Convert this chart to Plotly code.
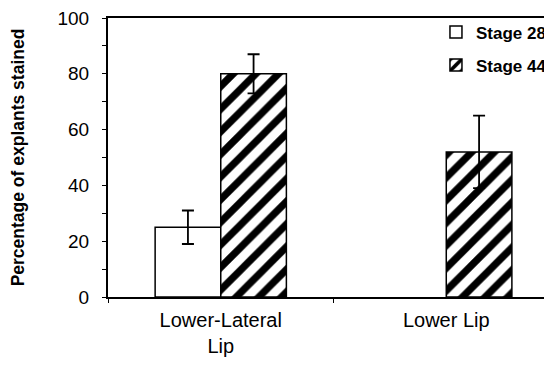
import plotly.graph_objects as go

categories = ["Lower-Lateral<br>Lip", "Lower Lip"]
stage28 = [25, None]
stage28_err = [6, None]
stage44 = [80, 52]
stage44_err = [7, 13]
series_names = ["Stage 28", "Stage 44"]
y_ticks = [0, 20, 40, 60, 80, 100]

fig = go.Figure()
fig.add_trace(go.Bar(
    x=categories, y=stage28, name=series_names[0], legendgroup="a",
    marker=dict(color="white", line=dict(color="black", width=1.5)),
    error_y=dict(type="data", array=stage28_err, color="black", thickness=1.8, width=6),
))
fig.add_trace(go.Bar(
    x=categories, y=stage44, name=series_names[1], legendgroup="b",
    marker=dict(color="white", line=dict(color="black", width=1.5),
                pattern=dict(shape="/", fgcolor="black", bgcolor="white", fgopacity=1,
                             size=16, solidity=0.45)),
    error_y=dict(type="data", array=stage44_err, color="black", thickness=1.8, width=6),
))

fig.update_layout(
    width=544, height=363,
    margin=dict(l=100, r=0, t=10, b=74),
    paper_bgcolor="white", plot_bgcolor="white",
    barmode="group", bargap=0.418, bargroupgap=0,
    font=dict(family="Liberation Sans, Arial, sans-serif", color="black"),
    showlegend=True,
    legend=dict(x=0.742, y=1.013, xanchor="left", yanchor="top",
                bgcolor="rgba(0,0,0,0)", tracegroupgap=8, itemwidth=30,
                font=dict(family="Liberation Sans, Arial, sans-serif",
                          size=17, color="black", weight="bold")),
)
fig.update_xaxes(
    range=[-0.5, 1.46], showline=True, linecolor="black", linewidth=2, mirror=True,
    ticks="outside", tickson="boundaries", ticklen=4, tickcolor="black",
    tickfont=dict(size=20), ticklabelstandoff=4, ticklabeloverflow="allow",
    showgrid=False, zeroline=False, automargin=False,
)
fig.update_yaxes(
    range=[0, 100], tickvals=y_ticks, showline=True, linecolor="black", linewidth=2,
    ticks="outside", ticklen=4, tickcolor="black",
    minor=dict(dtick=10, ticks="outside", ticklen=4, tickcolor="black"),
    tickfont=dict(size=19), ticklabelstandoff=9, ticklabeloverflow="allow",
    showgrid=False, zeroline=False, automargin=False,
    title=dict(text="Percentage of explants stained",
               font=dict(size=17.5, weight="bold"), standoff=34),
)
fig.write_html("out.html")
